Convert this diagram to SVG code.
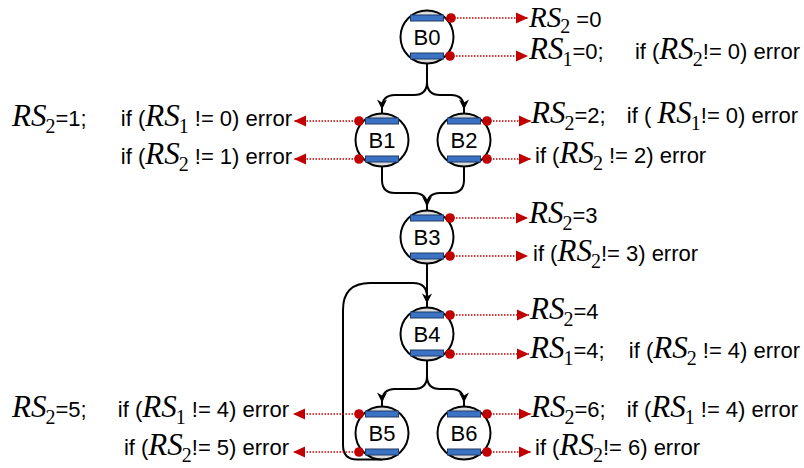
<svg xmlns="http://www.w3.org/2000/svg" width="804" height="468" viewBox="0 0 804 468">
  <style>
    .t { font-family: "Liberation Sans", Arial, sans-serif; font-size: 22px; fill: #000; }
    .e { text-anchor: end; }
    .m { text-anchor: middle; }
    .v { font-family: "Liberation Serif", "Times New Roman", serif; font-style: italic; font-size: 31px; }
    .s { font-family: "Liberation Serif", "Times New Roman", serif; font-style: normal; font-size: 20px; }
    .flow { fill: none; stroke: #000; stroke-width: 2; }
    .probe { fill: none; stroke: #c00000; stroke-width: 1.3; stroke-dasharray: 1.5 1.5; marker-end: url(#ra); }
    .dot { fill: #c00000; }
  </style>
  <defs>
    <!-- basic block: circle with two register bars -->
    <g id="node">
      <circle r="26.5" fill="#fff"/>
      <path d="M-14.8,-22A26.5,26.5 0 0 1 14.8,-22Z" fill="#dcdcdc"/>
      <path d="M-14.8,22A26.5,26.5 0 0 0 14.8,22Z" fill="#dcdcdc"/>
      <circle r="26.5" fill="none" stroke="#000" stroke-width="2"/>
      <rect x="-16.5" y="-22" width="33" height="6" fill="#3b73c4" stroke="#1f3b66" stroke-width="1"/>
      <rect x="-16.5" y="16" width="33" height="6" fill="#3b73c4" stroke="#1f3b66" stroke-width="1"/>
    </g>
    <marker id="ra" markerUnits="userSpaceOnUse" markerWidth="12" markerHeight="11" refX="12" refY="5.5" orient="auto" overflow="visible">
      <path d="M0,0L12,5.5L0,11z" fill="#c00000"/>
    </marker>
    <marker id="ba" markerUnits="userSpaceOnUse" markerWidth="14" markerHeight="10" refX="14" refY="5" orient="auto" overflow="visible">
      <path d="M0,0L10,5L0,10L3,5z" fill="#000"/>
    </marker>
  </defs>

  <!-- control-flow edges -->
  <g id="connectors">
    <path class="flow" d="M427,63.5V82Q427,95 414,95H395Q382,95 382,108V113.5" marker-end="url(#ba)"/>
    <path class="flow" d="M427,82Q427,95 440,95H451Q464,95 464,108V113.5" marker-end="url(#ba)"/>
    <path class="flow" d="M382,166.5V180Q382,193 395,193H414Q427,193 427,206V210.5" marker-end="url(#ba)"/>
    <path class="flow" d="M464,166.5V180Q464,193 451,193H440Q427,193 427,206V210.5"/>
    <path class="flow" d="M427,263.5V307.5" marker-end="url(#ba)"/>
    <path class="flow" d="M427,360.5V376Q427,389 414,389H395Q382,389 382,402V406.5" marker-end="url(#ba)"/>
    <path class="flow" d="M427,376Q427,389 440,389H451Q464,389 464,402V406.5" marker-end="url(#ba)"/>
    <path class="flow" d="M382,459.5H357Q343,459.5 343,445V310Q343,283 370,283H413Q427,283 427,297"/>
  </g>

  <!-- blocks -->
  <g id="B0" transform="translate(427,37)"><use href="#node"/><text class="t m" y="8">B0</text></g>
  <g id="B1" transform="translate(382,140)"><use href="#node"/><text class="t m" y="8">B1</text></g>
  <g id="B2" transform="translate(464,140)"><use href="#node"/><text class="t m" y="8">B2</text></g>
  <g id="B3" transform="translate(427,237)"><use href="#node"/><text class="t m" y="8">B3</text></g>
  <g id="B4" transform="translate(427,334)"><use href="#node"/><text class="t m" y="8">B4</text></g>
  <g id="B5" transform="translate(382,433)"><use href="#node"/><text class="t m" y="8">B5</text></g>
  <g id="B6" transform="translate(464,433)"><use href="#node"/><text class="t m" y="8">B6</text></g>

  <!-- register probes and checks -->
  <g id="probes">
    <circle class="dot" cx="451" cy="18" r="4.8"/>
    <circle class="dot" cx="450" cy="56" r="4.8"/>
    <path class="probe" d="M451,18H528"/>
    <path class="probe" d="M450,56H528"/>

    <circle class="dot" cx="359" cy="121" r="4.8"/>
    <circle class="dot" cx="359" cy="159" r="4.8"/>
    <path class="probe" d="M359,121H294"/>
    <path class="probe" d="M359,159H294"/>

    <circle class="dot" cx="487" cy="121" r="4.8"/>
    <circle class="dot" cx="487" cy="159" r="4.8"/>
    <path class="probe" d="M487,121H531"/>
    <path class="probe" d="M487,159H531"/>

    <circle class="dot" cx="450" cy="218" r="4.8"/>
    <circle class="dot" cx="450" cy="256" r="4.8"/>
    <path class="probe" d="M450,218H528"/>
    <path class="probe" d="M450,256H528"/>

    <circle class="dot" cx="450" cy="315" r="4.8"/>
    <circle class="dot" cx="450" cy="354" r="4.8"/>
    <path class="probe" d="M450,315H529"/>
    <path class="probe" d="M450,354H529"/>

    <circle class="dot" cx="359" cy="414" r="4.8"/>
    <circle class="dot" cx="359" cy="452" r="4.8"/>
    <path class="probe" d="M359,414H293"/>
    <path class="probe" d="M359,452H293"/>

    <circle class="dot" cx="487" cy="414" r="4.8"/>
    <circle class="dot" cx="487" cy="452" r="4.8"/>
    <path class="probe" d="M487,414H531"/>
    <path class="probe" d="M487,452H531"/>
  </g>

  <g id="labels">
    <!-- B0 -->
    <text class="t" x="529" y="27"><tspan class="v" style="font-size:29px">RS</tspan><tspan class="s" dx="-1" dy="6">2</tspan><tspan dy="-6"> =0</tspan></text>
    <text class="t" x="529" y="59"><tspan class="v">RS</tspan><tspan class="s" dx="-1" dy="7">1</tspan><tspan dy="-7">=0;</tspan></text>
    <text class="t e" x="800" y="59">if (<tspan class="v">RS</tspan><tspan class="s" dx="-1" dy="7">2</tspan><tspan dy="-7">!= 0) error</tspan></text>
    <!-- B1 -->
    <text class="t" x="12" y="126"><tspan class="v">RS</tspan><tspan class="s" dx="-1" dy="7">2</tspan><tspan dy="-7">=1;</tspan></text>
    <text class="t e" x="292" y="126">if (<tspan class="v">RS</tspan><tspan class="s" dx="-1" dy="7">1</tspan><tspan dy="-7"> != 0) error</tspan></text>
    <text class="t e" x="292" y="164">if (<tspan class="v">RS</tspan><tspan class="s" dx="-1" dy="7">2</tspan><tspan dy="-7"> != 1) error</tspan></text>
    <!-- B2 -->
    <text class="t" x="531" y="123"><tspan class="v">RS</tspan><tspan class="s" dx="-1" dy="7">2</tspan><tspan dy="-7">=2;</tspan></text>
    <text class="t e" x="798" y="123">if ( <tspan class="v">RS</tspan><tspan class="s" dx="-1" dy="7">1</tspan><tspan dy="-7">!= 0) error</tspan></text>
    <text class="t" x="535" y="163">if (<tspan class="v">RS</tspan><tspan class="s" dx="-1" dy="7">2</tspan><tspan dy="-7"> != 2) error</tspan></text>
    <!-- B3 -->
    <text class="t" x="529" y="223"><tspan class="v">RS</tspan><tspan class="s" dx="-1" dy="7">2</tspan><tspan dy="-7">=3</tspan></text>
    <text class="t" x="533" y="261">if (<tspan class="v">RS</tspan><tspan class="s" dx="-1" dy="7">2</tspan><tspan dy="-7">!= 3) error</tspan></text>
    <!-- B4 -->
    <text class="t" x="530" y="319"><tspan class="v">RS</tspan><tspan class="s" dx="-1" dy="7">2</tspan><tspan dy="-7">=4</tspan></text>
    <text class="t" x="530" y="358"><tspan class="v">RS</tspan><tspan class="s" dx="-1" dy="7">1</tspan><tspan dy="-7">=4;</tspan></text>
    <text class="t e" x="800" y="358">if (<tspan class="v">RS</tspan><tspan class="s" dx="-1" dy="7">2</tspan><tspan dy="-7"> != 4) error</tspan></text>
    <!-- B5 -->
    <text class="t" x="12" y="417"><tspan class="v">RS</tspan><tspan class="s" dx="-1" dy="7">2</tspan><tspan dy="-7">=5;</tspan></text>
    <text class="t e" x="289" y="417">if (<tspan class="v">RS</tspan><tspan class="s" dx="-1" dy="7">1</tspan><tspan dy="-7"> != 4) error</tspan></text>
    <text class="t e" x="289" y="455">if (<tspan class="v">RS</tspan><tspan class="s" dx="-1" dy="7">2</tspan><tspan dy="-7">!= 5) error</tspan></text>
    <!-- B6 -->
    <text class="t" x="531" y="417"><tspan class="v">RS</tspan><tspan class="s" dx="-1" dy="7">2</tspan><tspan dy="-7">=6;</tspan></text>
    <text class="t e" x="798" y="417">if (<tspan class="v">RS</tspan><tspan class="s" dx="-1" dy="7">1</tspan><tspan dy="-7"> != 4) error</tspan></text>
    <text class="t" x="535" y="455">if (<tspan class="v">RS</tspan><tspan class="s" dx="-1" dy="7">2</tspan><tspan dy="-7">!= 6) error</tspan></text>
  </g>
</svg>
